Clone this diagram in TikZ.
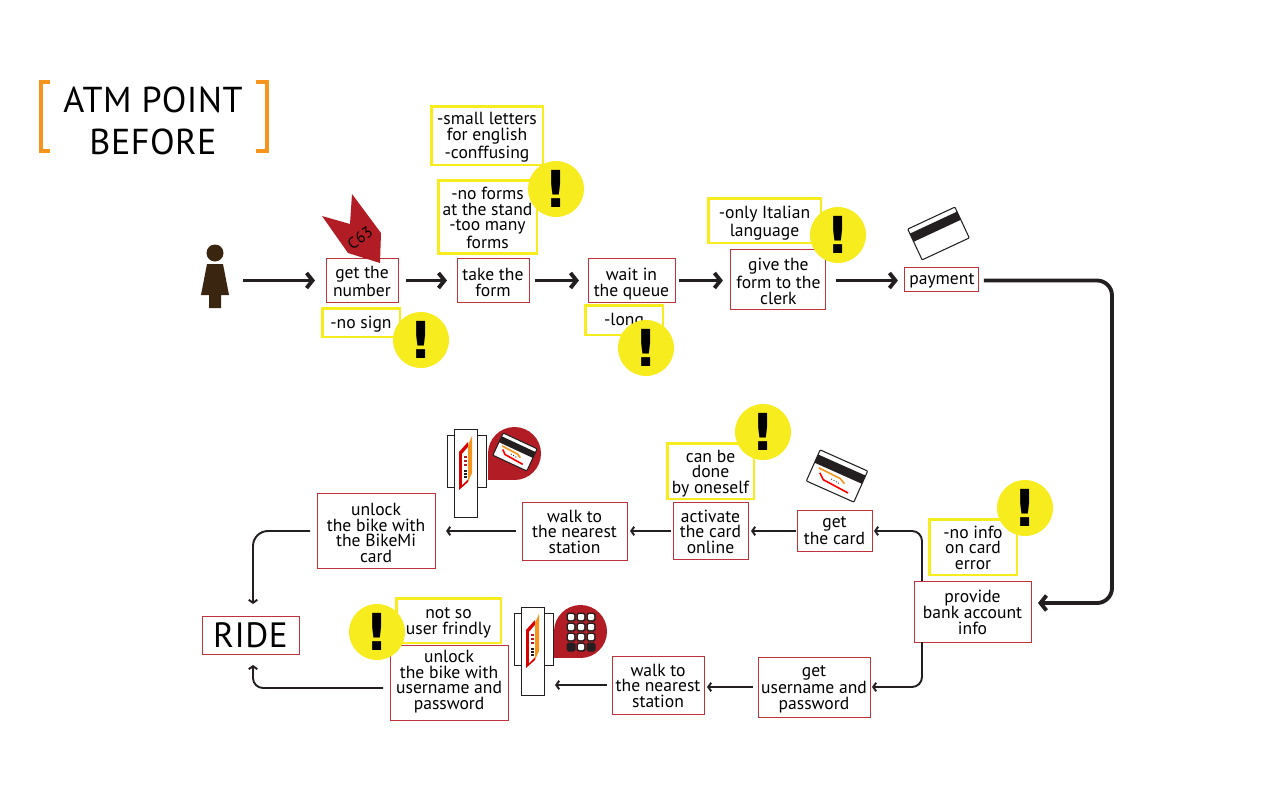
\documentclass[tikz,border=0pt]{standalone}
\usepackage{fontspec}
\usepackage{xcolor}
\usepackage{tikz}
\usetikzlibrary{positioning, arrows.meta, calc}
\setmainfont{PT Sans}
\newfontfamily\titlefont[LetterSpace=1.5]{PT Sans}
\newfontfamily\markfont{DejaVu Sans Bold}
\definecolor{boxred}{RGB}{190,50,60}
\definecolor{warnyellow}{RGB}{247,236,30}
\definecolor{inkline}{RGB}{35,31,32}
\definecolor{bracketorange}{RGB}{247,148,30}
\definecolor{pinred}{RGB}{178,28,36}
\definecolor{personbrown}{RGB}{58,38,16}

\tikzset{
    card/.pic={
        \draw[inkline, line width=0.6pt, fill=white, rounded corners=0.5pt] (-26,-17) rectangle (26,17);
        \fill[inkline] (-26,-12) rectangle (26,-3);
    },
    logocard/.pic={
        \draw[inkline, line width=0.6pt, fill=white, rounded corners=0.5pt] (-26,-17) rectangle (26,17);
        \fill[inkline] (-26,-12) rectangle (26,-3);
        \draw[bracketorange, line width=0.9pt] (-20,0) -- (4,1) -- (10,4);
        \draw[red, line width=0.9pt] (-17,4) -- (-11,9) -- (17,11);
        \draw[inkline, densely dotted, line width=0.5pt] (-4,5) -- (6,6);
    },
    stand/.pic={
        \draw[inkline, line width=0.5pt, fill=white] (-7,6) rectangle (32,58);
        \draw[inkline, line width=0.5pt, fill=white] (0,0) rectangle (23,88);
        \fill[red!85!black] (5,23) -- (14,13) -- (14,53) -- (5,61) -- cycle;
        \fill[white] (8,25) -- (14,18) -- (14,50) -- (8,56) -- cycle;
        \fill[bracketorange] (14,16) -- (18,7) -- (18,44) -- (14,53) -- cycle;
        \foreach \ya in {27,31,35} {
            \fill[pinred] (9.5,\ya) rectangle ++(3,2);
        }
        \foreach \ya in {41,44,47} {
            \fill[inkline] (10,\ya) rectangle ++(3,1.5);
        }
    },
    keypad/.pic={
        \foreach \ka/\kb in {0/0,1/0,2/0,0/1,1/1,2/1,0/2,1/2,2/2,1/3} {
            \fill[inkline, rounded corners=1pt] (\ka*10-4.5,\kb*10-4.5) rectangle ++(9,9);
            \fill[white, rounded corners=0.7pt] (\ka*10-3,\kb*10-3) rectangle ++(6,6);
        }
        \foreach \ka in {0,2} {
            \fill[inkline, rounded corners=1pt] (\ka*10-4.5,25.5) rectangle ++(9,9);
        }
    },
}

\begin{document}
\begin{tikzpicture}[
        x=0.02cm, y=-0.02cm,
        txt/.style={font=\fontsize{10}{9}\selectfont, align=center, inner sep=0pt, outer sep=0pt,
            text height=9.3pt, execute at end node={\rule[-2.5pt]{0pt}{0pt}}},
        twolines/.style={text height=20.6pt},
        threelines/.style={text height=28.4pt},
        fourlines/.style={text height=38.6pt},
        stepbox/.style={txt, draw=boxred, line width=0.5pt, fill=white},
        ridebox/.style={draw=boxred, line width=0.5pt, fill=white, inner sep=0pt, outer sep=0pt, font=\titlefont\fontsize{20}{24}\selectfont},
        warnbox/.style={txt, draw=warnyellow, line width=1.7pt, fill=white},
        warnmark/.style={circle, fill=warnyellow, minimum size=1.12cm, inner sep=0pt, font=\markfont\fontsize{29}{29}\selectfont, text=black},
        bigarr/.style={-{Straight Barb[length=0.12cm, width=0.3cm]}, inkline, line width=2.2pt},
        smallarr/.style={-{Straight Barb[length=0.06cm, width=0.17cm]}, inkline, line width=1.1pt},
    ]
    \useasboundingbox (0,0) rectangle (1281,801);

    % Title
    \node[font=\titlefont\fontsize{20.5}{24}\selectfont, align=center, inner sep=0pt] (title) at (153,121) {ATM POINT\\BEFORE};
    \draw[bracketorange, line width=2.6pt] (50,82) -- (41,82) -- (41,151) -- (50,151);
    \draw[bracketorange, line width=2.6pt] (256,82) -- (267,82) -- (267,151) -- (256,151);

    % Person
    \fill[personbrown] (215,253) circle (8.5);
    \fill[personbrown] (207,264) -- (223,264) -- (229,295) -- (221,295) -- (221,308) -- (209,308) -- (209,295) -- (201,295) -- cycle;
    \coordinate (person) at (243,280.5);

    % Top row
    \node[stepbox, twolines, minimum width=1.44cm, minimum height=0.88cm] (number) at (362,280.5) {get the\\number};
    \node[stepbox, twolines, minimum width=1.44cm, minimum height=0.88cm, right=1.18cm of number] (form) {take the\\form};
    \node[stepbox, twolines, minimum width=1.74cm, minimum height=0.88cm, right=1.18cm of form] (queue) {wait in\\the queue};
    \node[stepbox, text height=31pt, minimum width=1.9cm, minimum height=1.2cm, right=1.12cm of queue, yshift=0.03cm] (clerk) {give the\\form to the\\clerk};
    \node[stepbox, minimum width=1.48cm, minimum height=0.48cm, right=1.58cm of clerk] (payment) {payment};

    % Middle row
    \node[stepbox, threelines, minimum width=2.34cm, minimum height=1.22cm] (bank) at (972.5,611.5) {provide\\bank account\\info};
    \node[stepbox, text height=18.3pt, minimum width=1.5cm, minimum height=0.82cm] (getcard) at (834.5,531) {get\\the card};
    \node[stepbox, threelines, minimum width=1.5cm, minimum height=1.14cm, left=0.98cm of getcard] (activate) {activate\\the card\\online};
    \node[stepbox, threelines, minimum width=2.1cm, minimum height=1.16cm, left=0.92cm of activate] (walkcard) {walk to\\the nearest\\station};
    \node[stepbox, fourlines, minimum width=2.36cm, minimum height=1.5cm, left=1.74cm of walkcard] (unlockcard) {unlock\\the bike with\\the BikeMi\\card};

    % Bottom row
    \node[stepbox, threelines, minimum width=2.24cm, minimum height=1.2cm] (username) at (814,687) {get\\username and\\password};
    \node[stepbox, threelines, minimum width=1.84cm, minimum height=1.16cm, left=1.08cm of username, yshift=0.04cm] (walkuser) {walk to\\the nearest\\station};
    \node[stepbox, text height=33.5pt, minimum width=2.36cm, minimum height=1.5cm, left=2.08cm of walkuser, yshift=0.05cm] (unlockuser) {unlock\\the bike with\\username and\\password};
    \node[ridebox, minimum width=1.94cm, minimum height=0.76cm] (ride) at (250.5,635) {RIDE};

    % Arrows
    \draw[bigarr, shorten >=0.22cm] (person) -- (number);
    \draw[bigarr, shorten <=0.16cm, shorten >=0.2cm] (number) -- (form);
    \draw[bigarr, shorten <=0.12cm, shorten >=0.18cm] (form) -- (queue);
    \draw[bigarr, shorten <=0.08cm, shorten >=0.16cm] (queue) -- (queue -| clerk.west);
    \draw[bigarr, shorten <=0.2cm, shorten >=0.14cm] (clerk.east |- person) -- (payment.west |- person);
    \draw[bigarr, rounded corners=0.3cm, shorten <=0.1cm, shorten >=0.14cm] (payment.east |- person) -- (1112,280.5) -- (1112,603) -- (bank.east |- 0,603);

    \coordinate (split) at (922,560);
    \draw[smallarr, rounded corners=0.2cm, shorten >=0.04cm] (split |- bank.north) |- (getcard);
    \draw[smallarr, rounded corners=0.2cm, shorten >=0.04cm] (split |- bank.south) |- (username);
    \draw[smallarr, shorten <=0.02cm, shorten >=0.06cm] (getcard) -- (activate);
    \draw[smallarr, shorten <=0.04cm, shorten >=0.06cm] (activate) -- (walkcard);
    \draw[smallarr, shorten <=0.12cm, shorten >=0.22cm] (walkcard) -- (unlockcard);
    \draw[smallarr, rounded corners=0.3cm, shorten <=0.14cm, shorten >=0.24cm] (unlockcard) -| ([xshift=0.05cm]ride.north);
    \draw[smallarr, shorten <=0.1cm, shorten >=0.06cm] (username) -- (username -| walkuser.east);
    \draw[smallarr, shorten <=0.1cm, shorten >=0.94cm] (walkuser) -- (walkuser -| unlockuser.east);
    \draw[smallarr, rounded corners=0.2cm, shorten <=0.14cm, shorten >=0.22cm] ([yshift=-0.11cm]unlockuser.west) -| ([xshift=0.05cm]ride.south);

    % Yellow notes
    \node[warnbox, threelines, minimum width=2.24cm, minimum height=1.18cm] (letters) at (487,135.5) {-small letters\\for english\\-conffusing};
    \node[warnbox, fourlines, minimum width=1.98cm, minimum height=1.44cm] (noforms) at (487.5,217) {-no forms\\at the stand\\-too many\\forms};
    \node[warnbox, twolines, minimum width=2.26cm, minimum height=0.9cm] (italian) at (764.5,220.5) {-only Italian\\language};
    \node[warnbox, minimum width=1.56cm, minimum height=0.58cm] (nosign) at (361,322.5) {-no sign};
    \node[warnbox, minimum width=1.56cm, minimum height=0.6cm] (long) at (624,320) {-long};
    \node[warnbox, threelines, minimum width=1.74cm, minimum height=1.12cm] (oneself) at (710.5,471) {can be\\done\\by oneself};
    \node[warnbox, threelines, minimum width=1.76cm, minimum height=1.12cm] (noinfo) at (973,547) {-no info\\on card\\error};
    \node[warnbox, text height=18pt, minimum width=2.1cm, minimum height=0.9cm] (frindly) at (448.5,620.5) {not so\\user frindly};

    % Warning marks
    \node[warnmark] (markform) at (556,189) {!};
    \node[warnmark] (markclerk) at (838,235) {!};
    \node[warnmark] (marknumber) at (421,340) {!};
    \node[warnmark] (markqueue) at (646,348) {!};
    \node[warnmark] (markactivate) at (763,432) {!};
    \node[warnmark] (markbank) at (1025,508) {!};
    \node[warnmark] (markunlock) at (377,632) {!};

    % Ticket
    \fill[pinred] (322,216) -- (350,224) -- (352,194) -- (381,233) -- (380,263) -- (348,253) -- cycle;
    \node[inner sep=0pt, rotate=35, font=\fontsize{9}{9}\selectfont] (ticket) at (360,238) {C63};

    % Cards
    \pic[rotate=25] at (938.5,233.5) {card};
    \pic[rotate=-24] at (837,476) {logocard};

    % Stations
    \pic at (454,429) {stand};
    \fill[pinred] (514.5,453.5) circle (26.5);
    \fill[pinred] (488,453.5) rectangle (514.5,480);
    \pic[rotate=-25, scale=0.72] at (515,452) {logocard};
    \pic at (521,607) {stand};
    \fill[pinred] (580.5,631.5) circle (26.5);
    \fill[pinred] (554,631.5) rectangle (580.5,658);
    \pic at (571,617) {keypad};

\end{tikzpicture}
\end{document}
